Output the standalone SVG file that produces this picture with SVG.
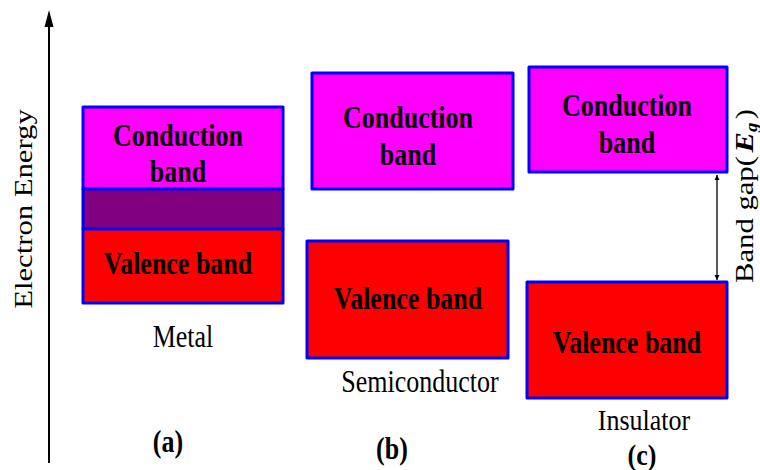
<svg xmlns="http://www.w3.org/2000/svg" width="760" height="470" viewBox="0 0 760 470">
  <style>
    .band { stroke: #0000ff; stroke-width: 3; stroke-linejoin: round; }
    .cb { fill: #ff00ff; }
    .vb { fill: #ff0000; }
    .ov { fill: #800080; }
    .lbl { font-family: "Liberation Serif", "Times New Roman", serif; font-size: 26px; fill: #000; text-anchor: middle; }
    .bold { font-weight: bold; }
    .conn { stroke: #000; stroke-width: 1.3; fill: none; }
  </style>
  <defs>
    <marker id="tip" viewBox="0 0 10 10" refX="10" refY="5" markerWidth="5" markerHeight="6" markerUnits="userSpaceOnUse" orient="auto-start-reverse">
      <path d="M0,0 L10,5 L0,10 Z" fill="#000"/>
    </marker>
  </defs>

  <rect width="760" height="470" fill="#fff"/>

  <!-- energy axis -->
  <g id="axis">
    <line x1="49" y1="463" x2="49" y2="24" stroke="#000" stroke-width="2"/>
    <path d="M44.5,27 L49,10 L53.5,27 Z" fill="#000"/>
    <text class="lbl" transform="translate(32,209) scale(1,1.18) rotate(-90)">Electron Energy</text>
  </g>

  <!-- (a) metal -->
  <g id="metal">
    <rect class="band cb" x="83" y="107" width="200" height="82"/>
    <rect class="band ov" x="83" y="189" width="200" height="40"/>
    <rect class="band vb" x="83" y="229" width="200" height="74"/>
    <text class="lbl bold" transform="translate(178,146) scale(1,1.18)">Conduction</text>
    <text class="lbl bold" transform="translate(178,182) scale(1,1.18)">band</text>
    <text class="lbl bold" transform="translate(178,274) scale(1,1.18)">Valence band</text>
    <text class="lbl" transform="translate(183,347) scale(1,1.18)">Metal</text>
    <text class="lbl bold" transform="translate(168,452) scale(1,1.18)">(a)</text>
  </g>

  <!-- (b) semiconductor -->
  <g id="semiconductor">
    <rect class="band cb" x="312" y="73" width="201" height="116"/>
    <rect class="band vb" x="307" y="241" width="201" height="117"/>
    <text class="lbl bold" transform="translate(408,128) scale(1,1.18)">Conduction</text>
    <text class="lbl bold" transform="translate(408,165) scale(1,1.18)">band</text>
    <text class="lbl bold" transform="translate(408,309) scale(1,1.18)">Valence band</text>
    <text class="lbl" transform="translate(420,392) scale(1,1.18)">Semiconductor</text>
    <text class="lbl bold" transform="translate(392,459) scale(1,1.18)">(b)</text>
  </g>

  <!-- (c) insulator -->
  <g id="insulator">
    <rect class="band cb" x="529" y="67" width="198" height="105"/>
    <rect class="band vb" x="527" y="282" width="200" height="116"/>
    <text class="lbl bold" transform="translate(627,116) scale(1,1.18)">Conduction</text>
    <text class="lbl bold" transform="translate(627,153) scale(1,1.18)">band</text>
    <text class="lbl bold" transform="translate(627,353) scale(1,1.18)">Valence band</text>
    <text class="lbl" transform="translate(644,430) scale(1,1.12)">Insulator</text>
    <text class="lbl bold" transform="translate(642,465) scale(1,1.12)">(c)</text>
  </g>

  <!-- band gap indicator -->
  <g id="connectors">
    <line class="conn" x1="717" y1="175" x2="717" y2="280" marker-start="url(#tip)" marker-end="url(#tip)"/>
  </g>
  <g id="gap-label">
    <text class="lbl" style="text-anchor:start" transform="translate(753,283) scale(1,1.18) rotate(-90)">Band gap(<tspan dx="3" font-weight="bold" font-style="italic">E</tspan><tspan font-size="16" font-weight="bold" font-style="italic" dy="4">g</tspan><tspan dy="-4" dx="3">)</tspan></text>
  </g>
</svg>
